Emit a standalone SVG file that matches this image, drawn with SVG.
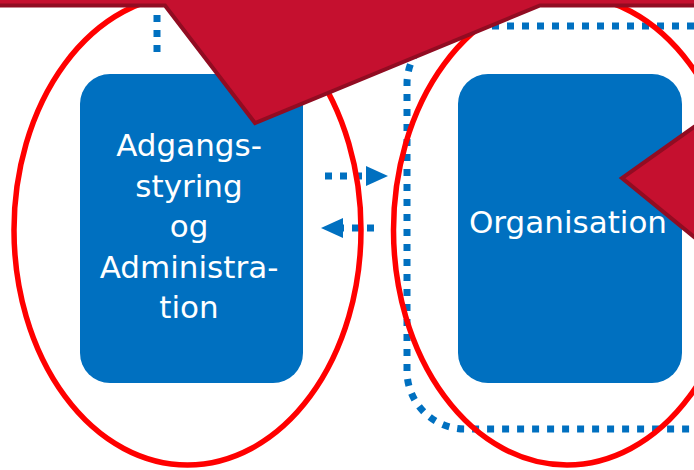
<svg xmlns="http://www.w3.org/2000/svg" width="694" height="470" viewBox="0 0 694 470">
<defs>
<style>
.box{fill:#0070C0;}
.lbl{fill:#FFFFFF;font-family:"DejaVu Sans","Liberation Sans",sans-serif;font-size:31px;text-anchor:middle;}
.dot{fill:none;stroke:#0070C0;stroke-width:7;stroke-dasharray:7 8;}
.ring{fill:none;stroke:#FF0000;stroke-width:5.5;}
.callout{fill:#C5102F;stroke:#910C22;stroke-width:4;stroke-linejoin:miter;}
</style>
<marker id="head" markerUnits="userSpaceOnUse" viewBox="0 0 22 20" markerWidth="22" markerHeight="20" refX="0" refY="10" orient="auto">
<path d="M0,0 L22,10 L0,20 Z" fill="#0070C0"/>
</marker>
</defs>
<rect width="694" height="470" fill="#FFFFFF"/>
<g id="node-adgang">
<rect class="box" x="80" y="74" width="223" height="309" rx="30"/>
<text class="lbl" x="189" y="156">Adgangs-</text>
<text class="lbl" x="189" y="197">styring</text>
<text class="lbl" x="189" y="237">og</text>
<text class="lbl" x="189" y="278">Administra-</text>
<text class="lbl" x="189" y="318">tion</text>
</g>
<g id="node-organisation">
<rect class="box" x="458" y="74" width="224" height="309" rx="30"/>
<text class="lbl" x="568" y="233">Organisation</text>
</g>
<g id="connectors">
<path class="dot" d="M157 0 V53"/>
<path class="dot" d="M694 26 H465 A58 58 0 0 0 407 84 V371 A58 58 0 0 0 465 429 H694"/>
<path class="dot" d="M325 176 H366" marker-end="url(#head)"/>
<path class="dot" d="M374 228 H343" marker-end="url(#head)"/>
</g>
<g id="highlights">
<ellipse class="ring" cx="187.5" cy="230" rx="173.5" ry="235"/>
<ellipse class="ring" cx="567" cy="230" rx="173.5" ry="235"/>
</g>
<g id="callouts">
<path class="callout" d="M-10 -10 H704 V5.5 H540 L255 123 L165 5.5 H-10 Z"/>
<path class="callout" d="M704 120 L622 178 L704 245 Z"/>
</g>
</svg>
